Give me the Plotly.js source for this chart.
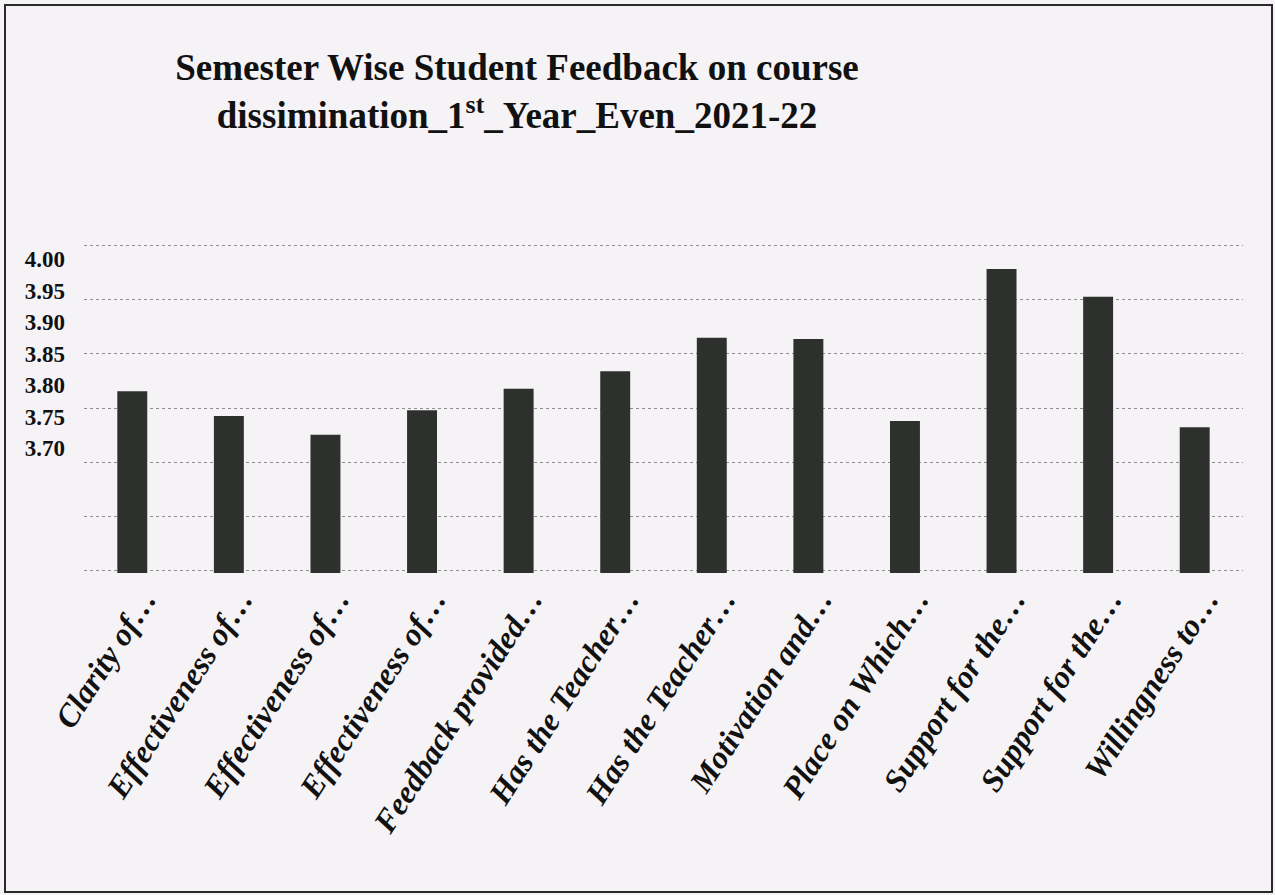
<!DOCTYPE html>
<html>
<head>
<meta charset="utf-8">
<script src="https://cdn.plot.ly/plotly-3.0.1.min.js"></script>
<style>
  html, body { margin: 0; padding: 0; background: #f5f3f5; }
  #wrap { position: relative; width: 1275px; height: 895px; }
  #chart { position: absolute; left: 0; top: 0; width: 1275px; height: 895px; }
  #frame { position: absolute; left: 4px; top: 4px; width: 1265px; height: 885px;
           border: 2px solid #2a2a2a; pointer-events: none; }
  #chart .xtick text, #chart .xtick tspan { font-style: italic !important; }
</style>
</head>
<body>
<div id="wrap">
  <div id="chart"></div>
  <div id="frame"></div>
</div>
<script>
// Category tick labels (as printed, truncated)
const categories = [
  "Clarity of\u2026",
  "Effectiveness of\u2026",
  "Effectiveness of\u2026",
  "Effectiveness of\u2026",
  "Feedback provided\u2026",
  "Has the Teacher\u2026",
  "Has the Teacher\u2026",
  "Motivation and\u2026",
  "Place on Which\u2026",
  "Support for the\u2026",
  "Support for the\u2026",
  "Willingness to\u2026"
];

// Average feedback score per item
const scores = [3.790, 3.751, 3.721, 3.760, 3.794, 3.822, 3.875, 3.873, 3.743, 3.984, 3.940, 3.733];

// Y tick labels
const yTickVals = [3.70, 3.75, 3.80, 3.85, 3.90, 3.95, 4.00];
const yTickText = ["3.70", "3.75", "3.80", "3.85", "3.90", "3.95", "4.00"];

const idx = categories.map((_, i) => i);

const trace = {
  type: "bar",
  x: idx,
  y: scores,
  marker: { color: "#2d302d", line: { width: 0 } },
  hoverinfo: "y"
};

const serif = "Liberation Serif";

const layout = {
  width: 1275,
  height: 895,
  paper_bgcolor: "#f5f3f5",
  plot_bgcolor: "#f5f3f5",
  margin: { l: 84, r: 32, t: 243, b: 322, pad: 0 },
  showlegend: false,
  bargap: 0.69,
  title: {
    text: "Semester Wise Student Feedback on course<br>dissimination_1<sup>st</sup>_Year_Even_2021-22",
    font: { family: serif, size: 37, weight: "bold", color: "#111" },
    xref: "container", x: 0.4055, xanchor: "center",
    yref: "container", y: 1 - 80 / 895, yanchor: "top"
  },
  xaxis: {
    range: [-0.5, categories.length - 0.5],
    tickmode: "array",
    tickvals: idx,
    ticktext: categories.map(c => "<i>" + c + "</i>"),
    tickangle: -57,
    ticklabelshift: 12,
    tickfont: { family: serif, size: 32, weight: "bold", style: "italic", color: "#111" },
    showgrid: false,
    zeroline: false,
    showline: false,
    ticks: ""
  },
  yaxis: {
    range: [3.5016, 4.0254],
    tickmode: "array",
    tickvals: yTickVals,
    ticktext: yTickText,
    tickfont: { family: serif, size: 23, weight: "bold", color: "#111" },
    showgrid: false,
    zeroline: false,
    showline: false,
    ticks: "",
    ticklabelstandoff: 18,
    minor: {
      tick0: 3.5048,
      dtick: 0.08623,
      showgrid: true,
      gridcolor: "#8f8f8f",
      gridwidth: 1,
      griddash: "dot",
      ticks: ""
    }
  }
};

Plotly.newPlot("chart", [trace], layout, { displayModeBar: false, staticPlot: true });
</script>
</body>
</html>
